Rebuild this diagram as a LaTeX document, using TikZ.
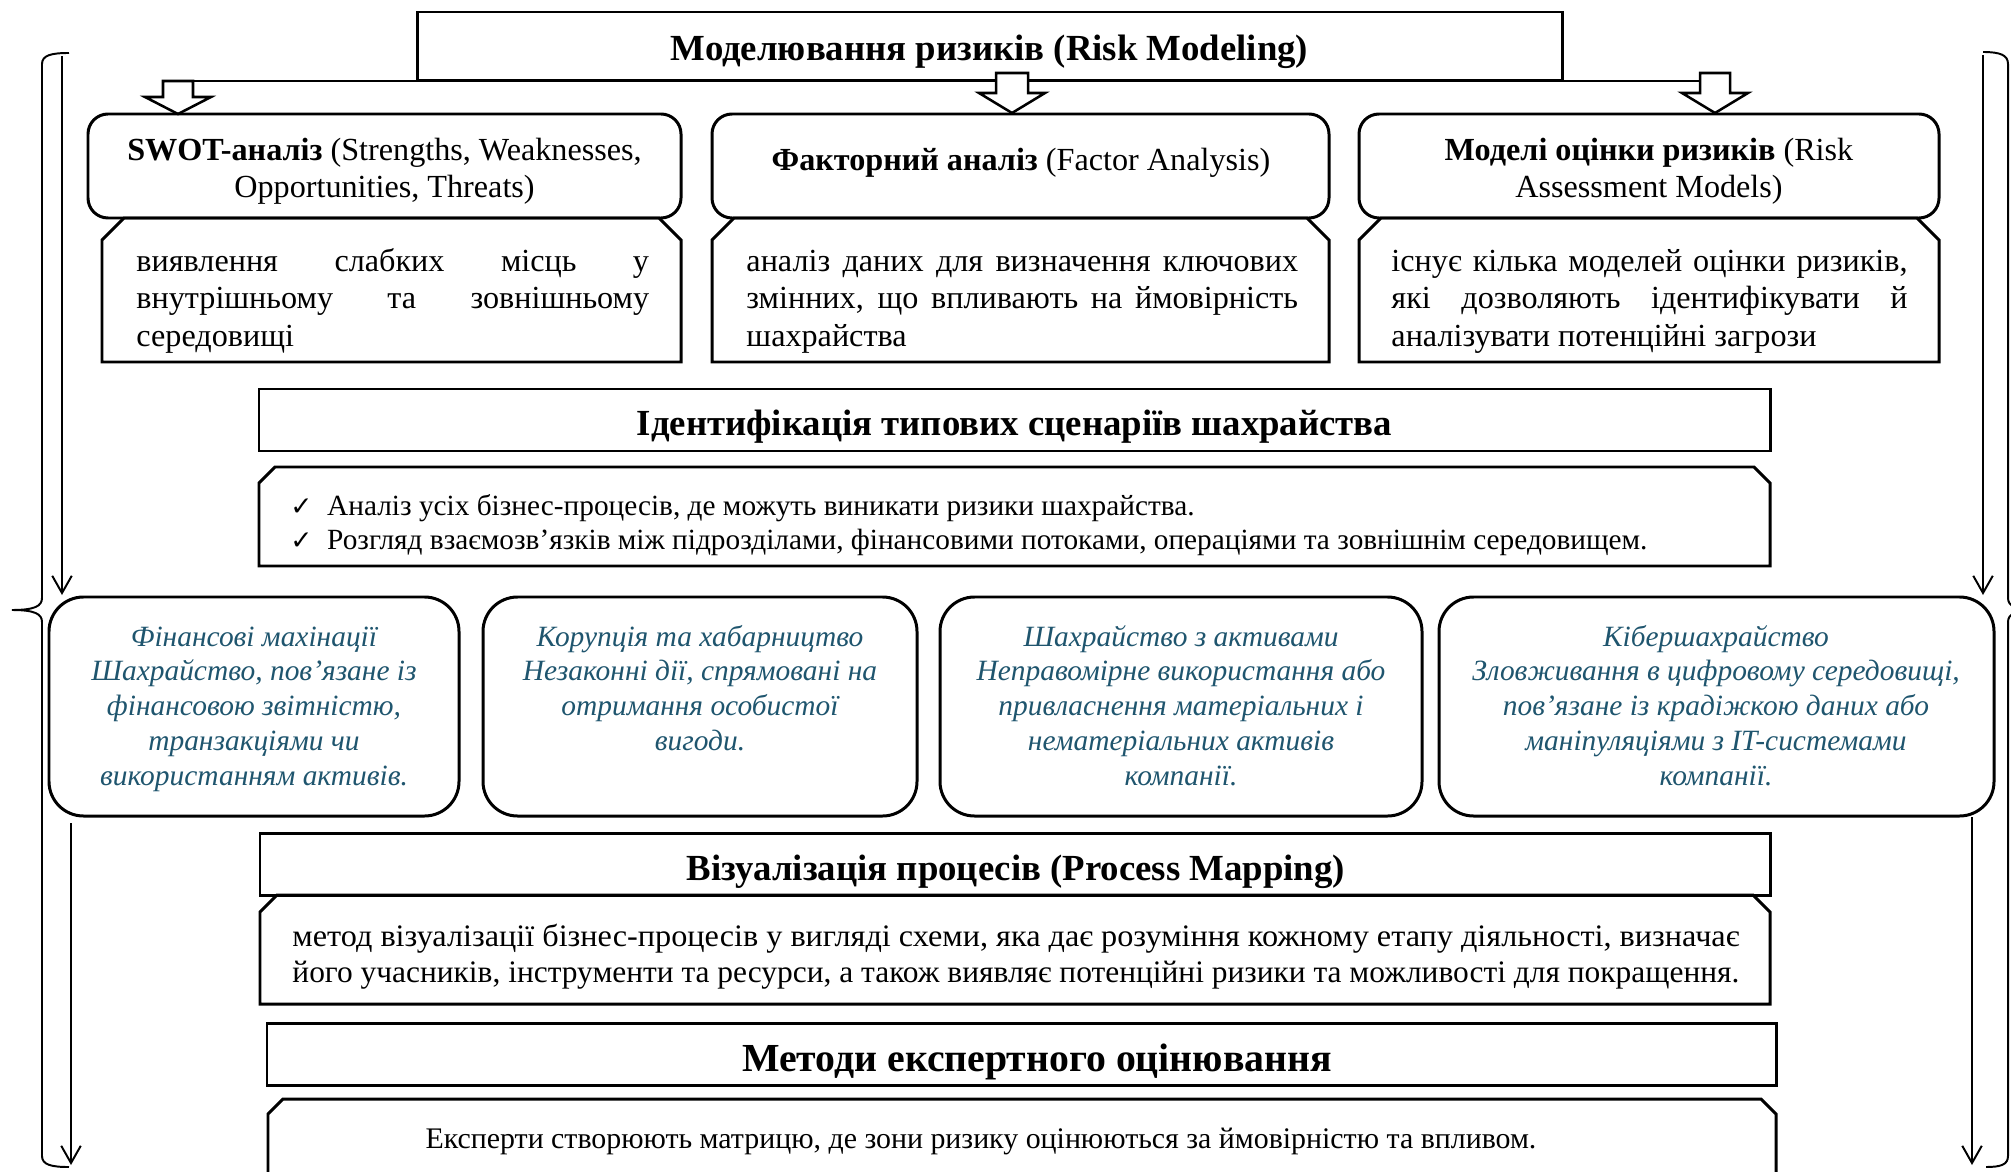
\documentclass[tikz,border=0pt]{standalone}
\usepackage{fontspec}
\usepackage{graphicx}
\setmainfont{Liberation Serif}
\newfontfamily\symfont{DejaVu Sans}
\usetikzlibrary{arrows.meta,fit}
\definecolor{scen}{RGB}{31,85,110}
\newcommand\jl[2]{\makebox[#1][s]{#2}}
\newcommand\fitline[2]{\resizebox{#1}{\height}{#2}}
\newcommand\ctext[1]{\vtop{\halign{\hfil##\hfil\cr#1\crcr}}}
\newcommand\ltext[1]{\vtop{\halign{##\hfil\cr#1\crcr}}}
\newcommand\chbox[5]{\draw[boxline] (#1,#4) -- (#1,{#2+#5}) -- ({#1+#5},#2) -- ({#3-#5},#2) -- (#3,{#2+#5}) -- (#3,#4) -- cycle;}
\newcommand\barrow[5]{\draw[line width=1.1pt, fill=white] ({#1-#5},#2) -- ({#1+#5},#2) -- ({#1+#5},#3) -- ({#1+33},#3) -- (#1,#4) -- ({#1-33},#3) -- ({#1-#5},#3) -- cycle;}
\tikzset{
  boxline/.style={line width=1.3pt, line join=miter},
  hdr/.style={draw, boxline, inner sep=0pt},
  rbox/.style={draw, boxline, rounded corners=8.7pt, inner sep=0pt},
  sbox/.style={draw, boxline, rounded corners=15pt, inner sep=0pt},
  thinline/.style={line width=0.85pt},
  sidearrow/.style={thinline, -{Straight Barb[length=7.5pt,width=8.5pt]}},
  ttl/.style={inner sep=0pt, font=\fontsize{16}{19}\selectfont\bfseries},
  body/.style={inner sep=0pt, font=\fontsize{14}{16.2}\selectfont},
  smallbody/.style={inner sep=0pt, font=\fontsize{13}{15.2}\selectfont},
  scentxt/.style={inner sep=0pt, text=scen, font=\fontsize{12.8}{15.2}\selectfont\itshape},
}
\begin{document}
\begin{tikzpicture}[x=0.435pt, y=-0.435pt]
\clip (0,0) rectangle (2011,1172);
\fill[white] (0,0) rectangle (2011,1172);

% title
\node[hdr, fit={(417,12) (1562,80)}] (title) {};
\node[ttl, anchor=base] (titleT) at (989.5,60.5) {Моделювання ризиків (Risk Modeling)};

% connector line and block arrows
\coordinate (la) at (163,81);
\coordinate (ra) at (1700,81);
\draw[thinline] (la) -- (ra);
\barrow{178}{81}{97}{114}{15}
\barrow{1012}{73}{93}{113}{16}
\barrow{1715}{73}{93}{113}{15}

% top three rounded boxes
\node[rbox, fit={(88,114) (681,218)}] (swot) {};
\node[rbox, fit={(712,114) (1329,218)}] (fact) {};
\node[rbox, fit={(1359,114) (1939,218)}] (model) {};
\node[body, anchor=base] (swotT) at (384.5,160.5) {\ctext{\textbf{SWOT-аналіз} (Strengths, Weaknesses,\cr Opportunities, Threats)}};
\node[body, anchor=base] (factT) at (1021,170.5) {\textbf{Факторний аналіз} (Factor Analysis)};
\node[body, anchor=base] (modelT) at (1649,160.5) {\ctext{\textbf{Моделі оцінки ризиків} (Risk\cr Assessment Models)}};

% descriptions
\chbox{102}{218}{681}{362}{22}
\chbox{712}{218}{1329}{362}{22}
\chbox{1359}{218}{1939}{362}{22}
\node[body, anchor=base west, font=\fontsize{14}{16.3}\selectfont] (swotD) at (136,271.5)
  {\ltext{\jl{223pt}{виявлення слабких місць у}\cr\jl{223pt}{внутрішньому та зовнішньому}\cr середовищі}};
\node[body, anchor=base west, font=\fontsize{14}{16.3}\selectfont] (factD) at (746,271.5)
  {\ltext{\jl{240pt}{аналіз даних для визначення ключових}\cr\jl{240pt}{змінних, що впливають на ймовірність}\cr шахрайства}};
\node[body, anchor=base west, font=\fontsize{14}{16.3}\selectfont] (modelD) at (1391,271.5)
  {\ltext{\jl{224.5pt}{існує кілька моделей оцінки ризиків,}\cr\jl{224.5pt}{які дозволяють ідентифікувати й}\cr аналізувати потенційні загрози}};

% identification
\node[hdr, fit={(259,389) (1770,451)}] (ident) {};
\node[ttl, anchor=base] (identT) at (1014.5,435.5) {Ідентифікація типових сценаріїв шахрайства};
\chbox{259}{467}{1770}{566}{16}
\node[smallbody, anchor=base west, font=\fontsize{12.75}{15.2}\selectfont] (identD) at (290,515)
  {\ltext{\makebox[16pt][l]{\symfont\fontsize{11.5}{14}\selectfont ✓}Аналіз усіх бізнес-процесів, де можуть виникати ризики шахрайства.\cr
   \makebox[16pt][l]{\symfont\fontsize{11.5}{14}\selectfont ✓}Розгляд взаємозв’язків між підрозділами, фінансовими потоками, операціями та зовнішнім середовищем.}};

% scenarios
\node[sbox, fit={(49,597) (459,816)}] (s1) {};
\node[sbox, fit={(483,597) (917,816)}] (s2) {};
\node[sbox, fit={(940,597) (1422,816)}] (s3) {};
\node[sbox, fit={(1439,597) (1994,816)}] (s4) {};
\node[scentxt, anchor=base] (s1T) at (254,646) {\ctext{Фінансові махінації\cr Шахрайство, пов’язане із\cr фінансовою звітністю,\cr транзакціями чи\cr використанням активів.}};
\node[scentxt, anchor=base] (s2T) at (700,646) {\ctext{Корупція та хабарництво\cr Незаконні дії, спрямовані на\cr отримання особистої\cr вигоди.}};
\node[scentxt, anchor=base] (s3T) at (1181,646) {\ctext{Шахрайство з активами\cr Неправомірне використання або\cr привласнення матеріальних і\cr нематеріальних активів\cr компанії.}};
\node[scentxt, anchor=base] (s4T) at (1716,646) {\ctext{Кібершахрайство\cr Зловживання в цифровому середовищі,\cr пов’язане із крадіжкою даних або\cr маніпуляціями з IT-системами\cr компанії.}};

% process mapping
\node[hdr, fit={(260,833) (1770,895)}] (vis) {};
\node[ttl, anchor=base] (visT) at (1016,880.5) {Візуалізація процесів (Process Mapping)};
\chbox{260}{895}{1770}{1004}{17}
\node[smallbody, anchor=base west, font=\fontsize{13.6}{15.7}\selectfont] (visD) at (292,946)
  {\ltext{\fitline{629.4pt}{метод візуалізації бізнес-процесів у вигляді схеми, яка дає розуміння кожному етапу діяльності, визначає}\cr
   \fitline{629.4pt}{його учасників, інструменти та ресурси, а також виявляє потенційні ризики та можливості для покращення.}}};

% expert methods
\node[hdr, fit={(267,1023) (1776,1085)}] (expert) {};
\node[ttl, anchor=base, font=\fontsize{17.3}{20}\selectfont\bfseries] (expertT) at (1037,1071.5) {Методи експертного оцінювання};
\chbox{268}{1099}{1776}{1200}{15}
\node[smallbody, anchor=base] (expertD) at (981,1148) {Експерти створюють матрицю, де зони ризику оцінюються за ймовірністю та впливом.};

% side braces and arrows
\draw[thinline] (69,53) .. controls (52,53) and (42,55) .. (42,64) -- (42,598)
  .. controls (42,606) and (35,610) .. (12,610) .. controls (35,610) and (42,614) .. (42,622)
  -- (42,1156) .. controls (42,1165) and (52,1167) .. (69,1167);
\draw[thinline] (1983,52) .. controls (2000,52) and (2008,55) .. (2008,64) -- (2008,598)
  .. controls (2008,606) and (2015,610) .. (2040,610) .. controls (2015,610) and (2008,614) .. (2008,622)
  -- (2008,1156) .. controls (2008,1165) and (2000,1167) .. (1986,1167);
\coordinate (l1a) at (62,56);  \coordinate (l1b) at (62,595);
\coordinate (l2a) at (71,823); \coordinate (l2b) at (71,1165);
\coordinate (r1a) at (1983,55); \coordinate (r1b) at (1983,595);
\coordinate (r2a) at (1972,817); \coordinate (r2b) at (1972,1165);
\draw[sidearrow] (l1a) -- (l1b);
\draw[sidearrow] (l2a) -- (l2b);
\draw[sidearrow] (r1a) -- (r1b);
\draw[sidearrow] (r2a) -- (r2b);
\end{tikzpicture}
\end{document}
